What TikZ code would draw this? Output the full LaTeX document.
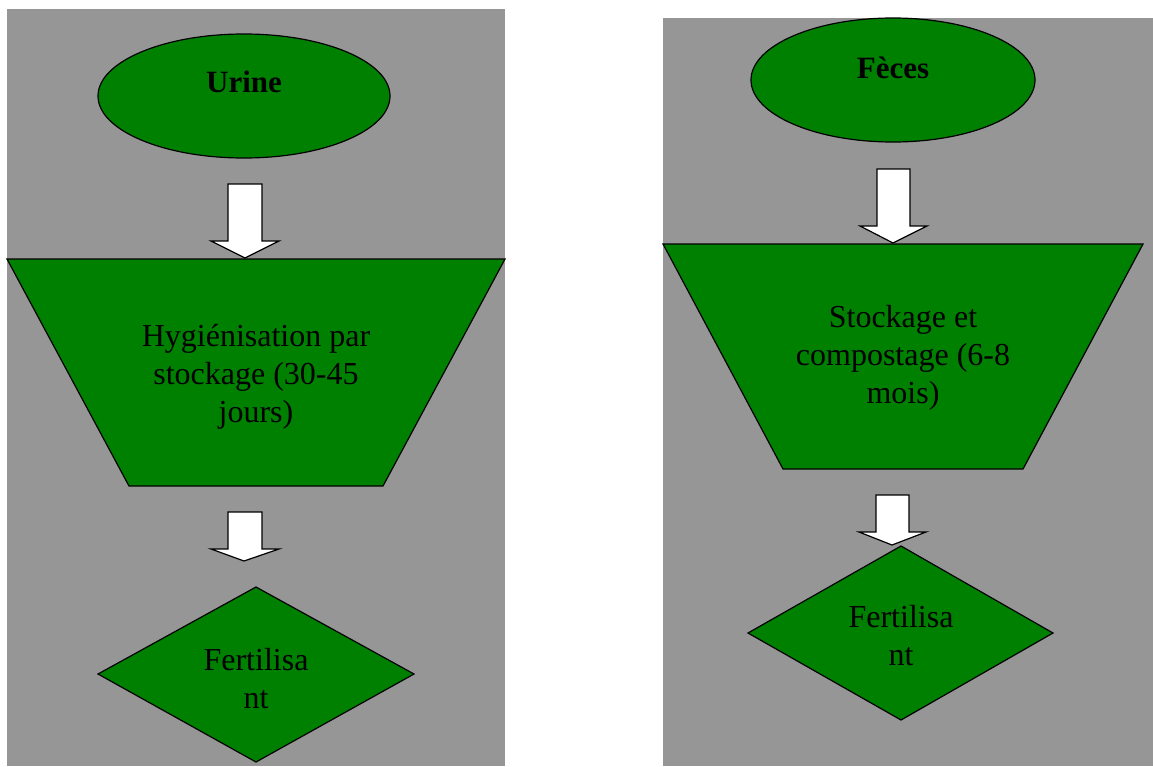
\documentclass[tikz,border=0pt]{standalone}
\usepackage{fontspec}
\setmainfont{Liberation Serif}
\definecolor{panelgray}{HTML}{969696}
\definecolor{boxgreen}{HTML}{008000}
\tikzset{
  panel/.style={fill=panelgray, draw=none},
  greenshape/.style={fill=boxgreen, draw=black, line width=1.2pt, line join=miter},
  blockarrow/.style={fill=white, draw=black, line width=1.2pt, line join=miter},
  lbl/.style={align=center, inner sep=0pt, font=\fontsize{32}{38}\selectfont},
  titlelbl/.style={align=center, inner sep=0pt, font=\fontsize{31}{37}\selectfont\bfseries},
}
\begin{document}
\begin{tikzpicture}[x=1pt,y=-1pt]
\useasboundingbox (0,0) rectangle (1153,766);
% panels
\fill[panel] (7,9) rectangle (505,766);
\fill[panel] (663,18) rectangle (1153,766);

% ---- left column ----
\draw[greenshape] (244,96) ellipse [x radius=146, y radius=62];
\node[titlelbl] (urine) at (244,82) {Urine};
\draw[blockarrow] (228,184) -- (262,184) -- (262,241) -- (279,241) -- (245,258) -- (211,241) -- (228,241) -- cycle;
\draw[greenshape] (7,259) -- (505,259) -- (383,486) -- (129,486) -- cycle;
\node[lbl] (hyg) at (256,377) {Hygiénisation par\\stockage (30-45\\jours)};
\draw[blockarrow] (228,512) -- (262,512) -- (262,549) -- (279,549) -- (244,561) -- (211,549) -- (228,549) -- cycle;
\draw[greenshape] (256,587) -- (414,674) -- (256,762) -- (98,674) -- cycle;
\node[lbl] (fertL) at (256,679) {Fertilisa\\nt};

% ---- right column ----
\draw[greenshape] (893,80) ellipse [x radius=142, y radius=62];
\node[titlelbl] (feces) at (893,68) {Fèces};
\draw[blockarrow] (877,169) -- (910,169) -- (910,226) -- (927,226) -- (893,243) -- (860,226) -- (877,226) -- cycle;
\draw[greenshape] (663,244) -- (1143,244) -- (1023,469) -- (783,469) -- cycle;
\node[lbl] (stock) at (903,358) {Stockage et\\compostage (6-8\\mois)};
\draw[blockarrow] (876,495) -- (909,495) -- (909,532) -- (926,532) -- (892,545) -- (859,532) -- (876,532) -- cycle;
\draw[greenshape] (901,546) -- (1053,633) -- (901,720) -- (748,633) -- cycle;
\node[lbl] (fertR) at (901,636) {Fertilisa\\nt};
\end{tikzpicture}
\end{document}
